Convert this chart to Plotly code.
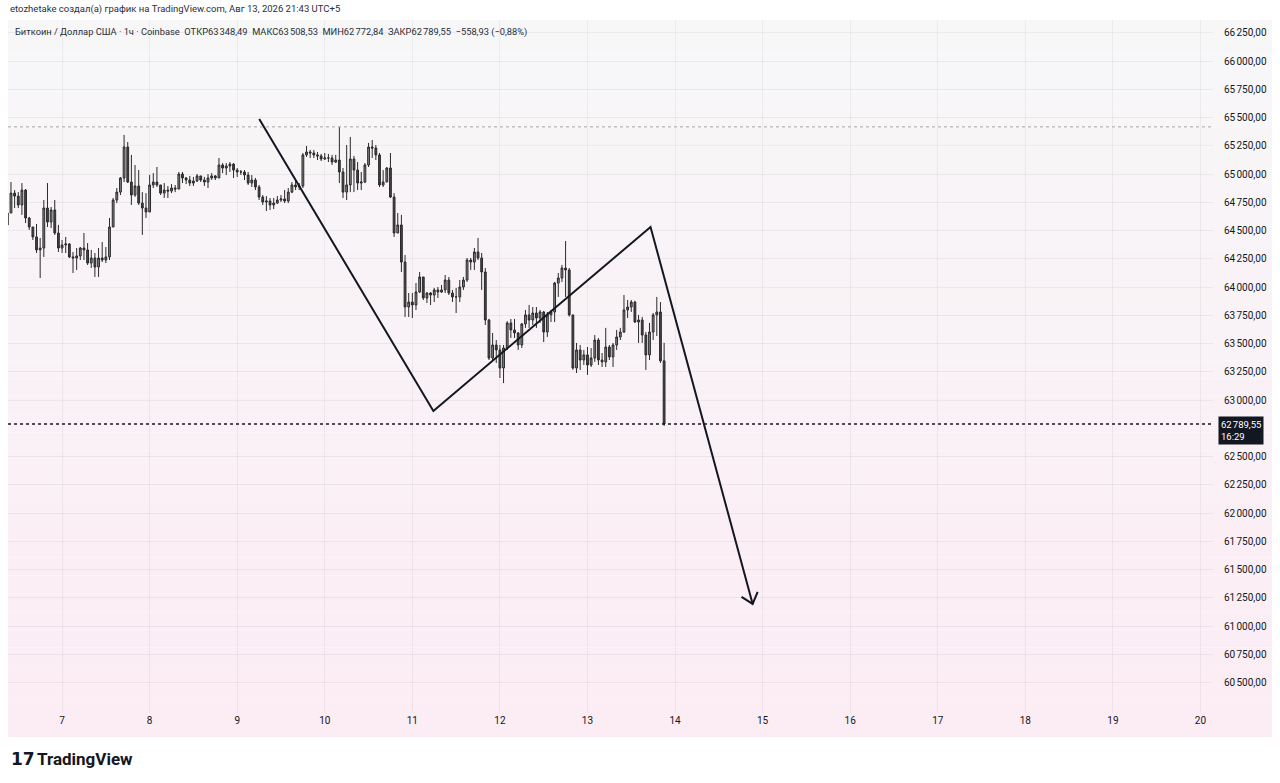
import pandas as pd
import plotly.graph_objects as go

# Data: BTC/USD 1h, Coinbase
start_time = "2026-08-06 09:00"
first_open = 64551

closes = [
    64657, 64833, 64807, 64728, 64860, 64613, 64533, 64445, 64330, 64347,
    64701, 64577, 64684, 64480, 64347, 64374, 64383, 64268, 64259, 64277,
    64347, 64330, 64214, 64259, 64179, 64259, 64241, 64268, 64533, 64772,
    64842, 64967, 65241, 64931, 64816, 64896, 64745, 64701, 64666, 64905,
    64931, 64905, 64833, 64860, 64851, 64878, 64869, 65002, 64967, 64949,
    64922, 64940, 64985, 64949, 64931, 64967, 64985, 64967, 65082, 65055,
    65073, 65090, 65037, 65020, 65020, 64993, 64922, 64949, 64887, 64798,
    64754, 64763, 64728, 64745, 64772, 64781, 64763, 64842, 64905, 64887,
    64896, 65171, 65197, 65188, 65171, 65162, 65135, 65144, 65144, 65108,
    65126, 65020, 64842, 64905, 65135, 65037, 64922, 64931, 65082, 65241,
    65232, 65171, 64905, 64931, 65055, 64798, 64480, 64551, 64223, 63825,
    63869, 63843, 63958, 64091, 63905, 63949, 63931, 63976, 63958, 63976,
    64064, 63949, 63914, 63914, 64002, 64064, 64241, 64223, 64312, 64259,
    64135, 63710, 63374, 63489, 63445, 63285, 63462, 63684, 63622, 63595,
    63489, 63675, 63755, 63710, 63772, 63728, 63781, 63604, 63755, 63781,
    64037, 64082, 64170, 64153, 63755, 63285, 63445, 63356, 63401, 63312,
    63374, 63533, 63356, 63339, 63471, 63383, 63489, 63560, 63604, 63799,
    63825, 63869, 63692, 63710, 63577, 63401, 63604, 63755, 63781, 63348.49,
    62789.55,
]

highs = [
    64684, 64931, 64860, 64842, 64922, 64869, 64622, 64533, 64560, 64436,
    64772, 64922, 64710, 64772, 64551, 64418, 64445, 64391, 64312, 64347,
    64356, 64480, 64391, 64330, 64303, 64347, 64400, 64356, 64613, 64790,
    64878, 64976, 65348, 65285, 65171, 65082, 65037, 64842, 64833, 64993,
    65010, 65064, 64905, 64922, 64896, 64913, 64905, 65020, 65020, 64976,
    64985, 64976, 65002, 64985, 64976, 65002, 65010, 64993, 65144, 65099,
    65099, 65108, 65099, 65055, 65037, 65037, 65020, 64993, 64967, 64905,
    64816, 64807, 64790, 64790, 64807, 64816, 64860, 64878, 64931, 64949,
    64922, 65188, 65250, 65215, 65215, 65197, 65180, 65188, 65180, 65171,
    65171, 65419, 65055, 65259, 65330, 65162, 65108, 65020, 65099, 65277,
    65303, 65259, 65188, 65037, 65064, 65188, 64833, 64657, 64640, 64285,
    63949, 63949, 64037, 64135, 64091, 63958, 63958, 63994, 64002, 64020,
    64108, 64091, 63976, 63994, 64064, 64091, 64259, 64259, 64347, 64436,
    64303, 64170, 63720, 63595, 63533, 63489, 63489, 63700, 63719, 63719,
    63604, 63684, 63799, 63843, 63825, 63825, 63799, 63790, 63781, 63799,
    64047, 64126, 64197, 64409, 64170, 63755, 63507, 63489, 63445, 63471,
    63462, 63577, 63550, 63418, 63640, 63489, 63507, 63622, 63640, 63931,
    63887, 63887, 63880, 63755, 63737, 63604, 63684, 63772, 63914, 63869,
    63508.53,
]

lows = [
    64463, 64657, 64701, 64701, 64640, 64568, 64507, 64418, 64303, 64082,
    64268, 64533, 64524, 64463, 64312, 64303, 64303, 64259, 64126, 64153,
    64241, 64241, 64197, 64170, 64091, 64091, 64223, 64214, 64241, 64533,
    64745, 64816, 64931, 64922, 64728, 64800, 64728, 64463, 64613, 64666,
    64878, 64887, 64816, 64790, 64790, 64833, 64842, 64869, 64922, 64913,
    64896, 64896, 64931, 64931, 64896, 64878, 64949, 64949, 64967, 65010,
    64993, 65020, 64967, 64976, 64993, 64949, 64905, 64887, 64860, 64772,
    64728, 64675, 64684, 64692, 64737, 64754, 64745, 64745, 64833, 64860,
    64860, 64878, 65153, 65144, 65144, 65126, 65117, 65126, 65108, 65082,
    65099, 64922, 64790, 64772, 64842, 64842, 64860, 64860, 64922, 65064,
    65144, 65126, 64887, 64887, 64931, 64790, 64445, 64480, 64135, 63737,
    63737, 63728, 63799, 63949, 63887, 63860, 63843, 63869, 63905, 63949,
    63949, 63931, 63869, 63772, 63869, 63976, 64047, 64153, 64153, 64241,
    63976, 63666, 63356, 63356, 63330, 63197, 63152, 63445, 63551, 63551,
    63445, 63462, 63640, 63640, 63666, 63640, 63684, 63515, 63560, 63692,
    63692, 63914, 64047, 63914, 63740, 63270, 63241, 63268, 63312, 63224,
    63294, 63339, 63312, 63294, 63294, 63356, 63294, 63445, 63533, 63595,
    63728, 63781, 63684, 63507, 63507, 63268, 63356, 63533, 63569, 63330,
    62772.84,
]

n = min(len(closes), len(highs), len(lows))
closes, highs, lows = closes[:n], highs[:n], lows[:n]
opens = [first_open] + closes[:-1]
times = pd.date_range(start_time, periods=n, freq="h")

last_price = 62789.55
prev_high_line = 65419

# hand-drawn zigzag + arrow (time, price)
draw_x = ["2026-08-09 06:02", "2026-08-11 05:46", "2026-08-13 17:17", "2026-08-14 21:16"]
draw_y = [65489, 62905, 64533, 61197]
arrow_x = ["2026-08-14 18:13", "2026-08-14 21:16", "2026-08-14 22:38"]
arrow_y = [61259, 61197, 61303]

# axes
day_ticks = pd.date_range("2026-08-07", "2026-08-20", freq="D")
day_labels = [str(d.day) for d in day_ticks]
price_ticks = [60500, 60750, 61000, 61250, 61500, 61750, 62000, 62250, 62500,
               63000, 63250, 63500, 63750, 64000, 64250, 64500, 64750, 65000,
               65250, 65500, 65750, 66000, 66250]
price_labels = ["{:,.2f}".format(v).replace(",", "\u202f").replace(".", ",") for v in price_ticks]

header = "etozhetake создал(а) график на TradingView.com, Авг 13, 2026 21:43 UTC+5"
legend_row = ("Биткоин / Доллар США · 1ч · Coinbase  ОТКР63\u202f348,49  МАКС63\u202f508,53  "
              "МИН62\u202f772,84  ЗАКР62\u202f789,55  −558,93 (−0,88%)")

W, H = 1280, 783
L, R, T, B = 8, 67, 20, 70
pw, ph = W - L - R, H - T - B


def px_x(x):
    return (x - L) / pw


def px_y(y):
    return (H - B - y) / ph


fig = go.Figure()

fig.add_trace(go.Candlestick(
    x=times, open=opens, high=highs, low=lows, close=closes,
    increasing=dict(line=dict(color="#2a2a2a", width=1), fillcolor="#858585"),
    decreasing=dict(line=dict(color="#2a2a2a", width=1), fillcolor="#444444"),
    whiskerwidth=0, showlegend=False, hoverinfo="skip",
))

fig.add_trace(go.Scatter(x=draw_x, y=draw_y, mode="lines",
                         line=dict(color="#131722", width=2), showlegend=False, hoverinfo="skip"))
fig.add_trace(go.Scatter(x=arrow_x, y=arrow_y, mode="lines",
                         line=dict(color="#131722", width=2), showlegend=False, hoverinfo="skip"))

# background gradient (grey top -> pink bottom)
top_c, bot_c = (247, 247, 248), (252, 236, 244)
y0p, y1p = px_y(737), px_y(20)
steps = 40
shapes = []
for i in range(steps):
    f = i / (steps - 1)
    c = tuple(round(bot_c[k] + (top_c[k] - bot_c[k]) * f) for k in range(3))
    shapes.append(dict(type="rect", xref="paper", yref="paper", layer="below",
                       x0=px_x(8), x1=px_x(1272),
                       y0=y0p + (y1p - y0p) * i / steps, y1=y0p + (y1p - y0p) * (i + 1) / steps,
                       fillcolor="rgb(%d,%d,%d)" % c, line=dict(width=0)))

shapes.append(dict(type="line", xref="paper", yref="y", x0=0, x1=1,
                   y0=prev_high_line, y1=prev_high_line,
                   line=dict(color="#a3a6af", width=1, dash="dot")))
shapes.append(dict(type="line", xref="paper", yref="y", x0=0, x1=1,
                   y0=last_price, y1=last_price,
                   line=dict(color="#131722", width=1.5, dash="dot")))

annotations = [
    dict(text=header, xref="paper", yref="paper", x=px_x(8), y=px_y(9),
         xanchor="left", yanchor="middle", showarrow=False,
         font=dict(family="Roboto", size=9.5, color="#2a2e39")),
    dict(text=legend_row, xref="paper", yref="paper", x=px_x(13), y=px_y(32),
         xanchor="left", yanchor="middle", showarrow=False,
         font=dict(family="Roboto", size=9.3, color="#2a2e39")),
    dict(text="62\u202f789,55<br>16:29", xref="paper", yref="y", x=px_x(1218), y=last_price,
         xanchor="left", yanchor="top", yshift=8, showarrow=False, align="left",
         bgcolor="#131722", borderpad=2,
         font=dict(family="Roboto", size=9.5, color="white")),
    dict(text="<b>17</b>", xref="paper", yref="paper", x=px_x(9), y=px_y(759),
         xanchor="left", yanchor="middle", showarrow=False,
         font=dict(family="DejaVu Sans", size=17, color="#131722")),
    dict(text="<b>TradingView</b>", xref="paper", yref="paper", x=px_x(35), y=px_y(759),
         xanchor="left", yanchor="middle", showarrow=False,
         font=dict(family="Roboto", size=17, color="#131722")),
]

fig.update_layout(
    width=W, height=H,
    margin=dict(l=L, r=R, t=T, b=B),
    paper_bgcolor="white", plot_bgcolor="rgba(0,0,0,0)",
    shapes=shapes, annotations=annotations,
    showlegend=False,
    font=dict(family="Roboto", size=10, color="#131722"),
)

fig.update_xaxes(
    type="date", range=["2026-08-06 09:11", "2026-08-20 03:26"],
    rangeslider_visible=False,
    tickvals=day_ticks, ticktext=day_labels, tickangle=0,
    showgrid=True, gridcolor="rgba(42,46,57,0.06)", gridwidth=1,
    zeroline=False, showline=False, ticks="",
    tickfont=dict(family="Roboto", size=10, color="#131722"),
)
fig.update_yaxes(
    side="right", range=[60232, 66365],
    tickvals=price_ticks, ticktext=price_labels,
    showgrid=True, gridcolor="rgba(42,46,57,0.06)", gridwidth=1,
    zeroline=False, showline=False, ticks="", ticklabelstandoff=10,
    tickfont=dict(family="Roboto", size=10, color="#131722"),
)

# drop the browser's default body margin so the figure sits at (0, 0)
fig.write_html("out.html", config={"displayModeBar": False},
               post_script="document.body.style.margin='0';")
